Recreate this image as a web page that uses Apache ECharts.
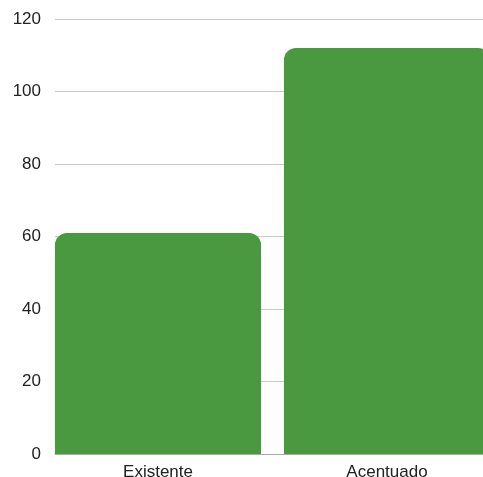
<!DOCTYPE html>
<html>
<head>
<meta charset="utf-8">
<script src="https://cdn.jsdelivr.net/npm/echarts@6/dist/echarts.min.js"></script>
<style>
html,body{margin:0;padding:0;background:#fff;}
#c{width:483px;height:477px;}
</style>
</head>
<body>
<div id="c"></div>
<script>
const categories = ['Existente', 'Acentuado'];
const values = [61, 112];
const yTicks = [0, 20, 40, 60, 80, 100, 120];

const chart = echarts.init(document.getElementById('c'), null, {renderer: 'canvas'});
const font = 'Liberation Sans, Arial, sans-serif';
chart.setOption({
  animation: false,
  backgroundColor: '#ffffff',
  grid: [
    {left: 43.5, width: 458, top: 19, bottom: 23, containLabel: false, outerBoundsMode: 'none'},
    {left: 55, right: 0, top: 19, bottom: 23, containLabel: false, outerBoundsMode: 'none'}
  ],
  xAxis: [
    {
      type: 'category', gridIndex: 0, data: categories,
      axisLine: {show: false}, axisTick: {show: false},
      axisLabel: {color: '#222', fontSize: 17, fontFamily: font, margin: 10}
    },
    {
      type: 'category', gridIndex: 1, data: categories, z: 0,
      axisLine: {show: true, lineStyle: {color: '#aaaaaa', width: 1}},
      axisTick: {show: false}, axisLabel: {show: false}
    }
  ],
  yAxis: [
    {
      type: 'value', gridIndex: 0, min: yTicks[0], max: yTicks[yTicks.length - 1], interval: 20,
      show: false, splitLine: {show: false}
    },
    {
      type: 'value', gridIndex: 1, min: yTicks[0], max: yTicks[yTicks.length - 1], interval: 20,
      axisLine: {show: false}, axisTick: {show: false},
      axisLabel: {color: '#222', fontSize: 17, fontFamily: font, margin: 14, padding: [3, 0, 0, 0]},
      splitLine: {show: true, lineStyle: {color: '#cccccc', width: 1}}
    }
  ],
  series: [{
    type: 'bar', xAxisIndex: 0, yAxisIndex: 0, z: 10,
    data: values,
    barCategoryGap: '10%',
    itemStyle: {color: '#4a983f', borderRadius: [12, 12, 0, 0]}
  }]
});
</script>
</body>
</html>
